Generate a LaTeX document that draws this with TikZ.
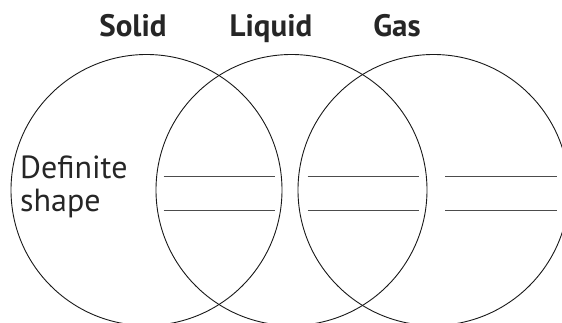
\documentclass[tikz,border=0pt]{standalone}
\usepackage{fontspec}
\setmainfont{PT Sans}
\begin{document}
\begin{tikzpicture}[x=1pt,y=-1pt,
  ring/.style={circle,draw=black!90,line width=0.9pt,minimum size=271pt,inner sep=0pt},
  title/.style={anchor=base,font=\bfseries\fontsize{31}{34}\selectfont,text=black!85},
  label/.style={anchor=base west,inner sep=0pt,font=\fontsize{32}{36}\selectfont,text=black!85},
  blank/.style={draw=black!70,line width=1.3pt}]
\useasboundingbox (0,0) rectangle (562,322);
\begin{scope}
\clip (0,0) rectangle (562,322);
\node[ring] (solid) at (146.5,190) {};
\node[ring] (liquid) at (291.5,190) {};
\node[ring] (gas) at (433.5,190) {};
\end{scope}
% headings
\node[title] (tsolid) at (133,36) {Solid};
\node[title] (tliquid) at (271,36) {Liquid};
\node[title] (tgas) at (397,36) {Gas};
% property text
\node[label] (def) at (20,178.3) {Definite};
\node[label] (shp) at (20,211.7) {shape};
% answer lines
\foreach \a/\b in {163.5/275, 307.5/419, 445/557}{
  \draw[blank] (\a,176.7) -- (\b,176.7);
  \draw[blank] (\a,210.7) -- (\b,210.7);
}
\end{tikzpicture}
\end{document}
